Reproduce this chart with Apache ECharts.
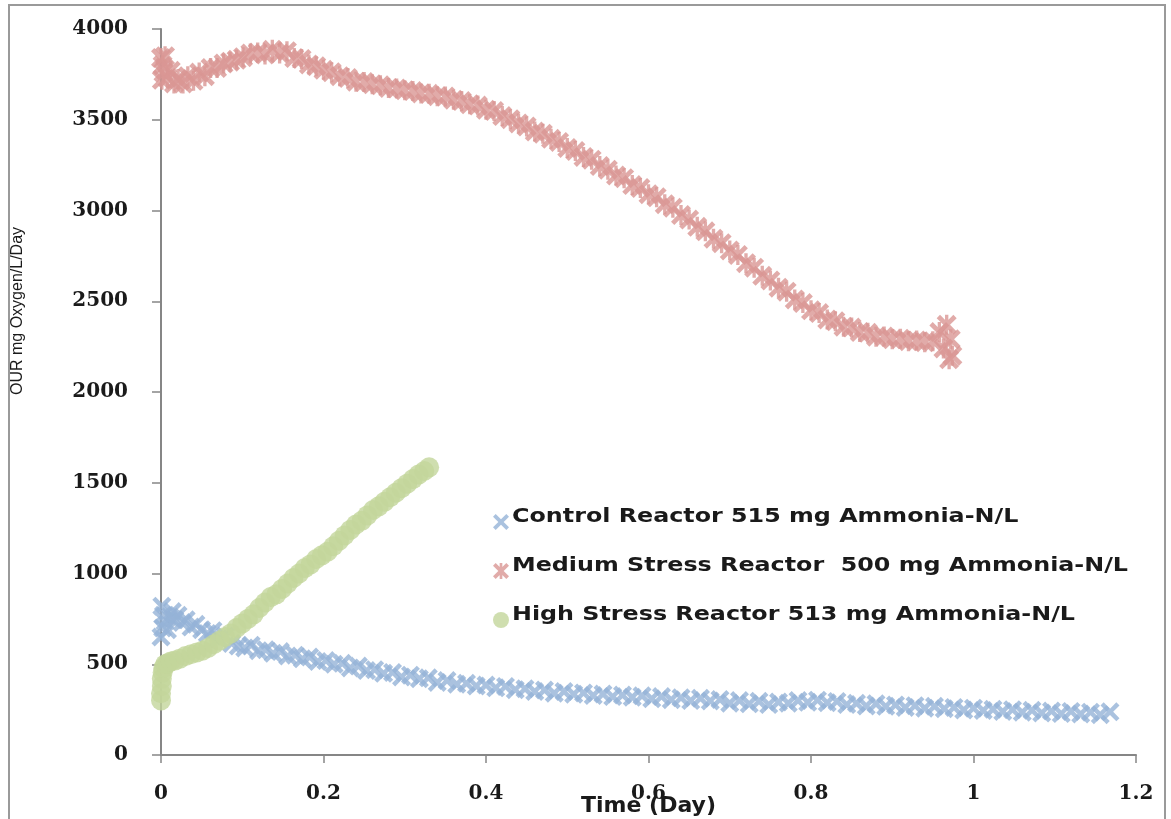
<!DOCTYPE html>
<html>
<head>
<meta charset="utf-8">
<title>OUR vs Time</title>
<script src="https://cdn.jsdelivr.net/npm/echarts@6/dist/echarts.min.js"></script>
<style>
  html, body { margin: 0; padding: 0; background: #ffffff; }
  #chart { width: 1171px; height: 819px; }
</style>
</head>
<body>
<div id="chart"></div>
<script>
// Oxygen uptake rate (mg O2/L/Day) against time (Day) for three reactors

const seriesNames = [
  'Control Reactor 515 mg Ammonia-N/L',
  'Medium Stress Reactor  500 mg Ammonia-N/L',
  'High Stress Reactor 513 mg Ammonia-N/L'
];

const xTicks = [0, 0.2, 0.4, 0.6, 0.8, 1, 1.2];
const yTicks = [0, 500, 1000, 1500, 2000, 2500, 3000, 3500, 4000];

// Control reactor
const ctrlTime = [0.000,0.001,0.002,0.003,0.005,0.008,0.011,0.014,0.017,0.021,0.026,0.031,0.037,0.043,0.050,0.057,0.064,0.071,0.079,0.087,
  0.095,0.103,0.111,0.120,0.129,0.138,0.147,0.156,0.165,0.174,0.183,0.193,0.203,0.213,0.223,0.233,0.243,0.253,0.263,0.274,
  0.285,0.296,0.307,0.318,0.329,0.340,0.352,0.364,0.376,0.388,0.400,0.412,0.424,0.436,0.448,0.460,0.472,0.484,0.496,0.508,
  0.520,0.532,0.544,0.556,0.568,0.580,0.592,0.604,0.616,0.628,0.640,0.652,0.664,0.676,0.688,0.700,0.712,0.724,0.736,0.748,
  0.760,0.772,0.784,0.796,0.808,0.820,0.832,0.844,0.856,0.868,0.880,0.892,0.904,0.916,0.928,0.940,0.952,0.964,0.976,0.988,
  1.000,1.012,1.024,1.036,1.048,1.060,1.072,1.084,1.096,1.108,1.120,1.132,1.144,1.156,1.168];
const ctrlOUR = [650,820,700,770,735,690,760,790,745,770,730,745,705,720,690,670,685,640,655,615,
  600,590,605,575,580,560,570,545,550,530,540,515,520,500,505,480,490,465,470,450,
  455,430,440,420,425,400,410,390,395,380,385,370,378,360,365,350,358,340,350,335,
  342,328,336,322,330,318,326,310,322,305,315,300,312,298,306,285,300,282,296,278,
  292,285,300,290,302,288,295,278,285,270,282,268,276,262,272,258,268,255,262,248,
  258,245,252,240,250,236,246,232,242,228,240,226,236,222,238];

// Medium stress reactor
const medTime = [0.000,0.001,0.002,0.003,0.005,0.008,0.012,0.016,0.021,0.027,0.033,0.040,0.047,0.054,0.061,0.069,0.077,0.085,0.093,0.101,
  0.110,0.119,0.128,0.137,0.146,0.155,0.164,0.173,0.182,0.191,0.200,0.210,0.220,0.230,0.240,0.250,0.260,0.270,0.280,0.290,
  0.300,0.310,0.320,0.330,0.340,0.350,0.360,0.370,0.380,0.390,0.400,0.410,0.420,0.430,0.440,0.450,0.460,0.470,0.480,0.490,
  0.500,0.510,0.520,0.530,0.540,0.550,0.560,0.570,0.580,0.590,0.600,0.610,0.620,0.630,0.640,0.650,0.660,0.670,0.680,0.690,
  0.700,0.710,0.720,0.730,0.740,0.750,0.760,0.770,0.780,0.790,0.800,0.810,0.820,0.830,0.840,0.850,0.860,0.870,0.880,0.890,
  0.900,0.910,0.920,0.930,0.940,0.950,0.958,0.963,0.967,0.970,0.972,0.974];
const medOUR = [3840,3720,3800,3760,3850,3730,3770,3700,3725,3700,3740,3715,3760,3740,3785,3785,3810,3820,3830,3845,
  3865,3870,3860,3885,3865,3878,3840,3835,3805,3795,3775,3762,3740,3730,3710,3708,3695,3690,3675,3672,
  3662,3658,3645,3643,3630,3628,3610,3603,3585,3578,3555,3548,3520,3503,3480,3463,3435,3423,3395,3378,
  3345,3328,3295,3280,3245,3225,3193,3178,3140,3124,3090,3073,3035,3015,2975,2950,2910,2885,2845,2820,
  2780,2755,2710,2685,2640,2615,2575,2553,2510,2490,2450,2435,2400,2390,2360,2355,2330,2326,2305,2306,
  2290,2294,2280,2284,2274,2280,2330,2240,2370,2180,2290,2200];

// High stress reactor
const highTime = [0.000,0.000,0.001,0.001,0.002,0.003,0.005,0.008,0.012,0.017,0.023,0.030,0.037,0.044,0.051,0.058,0.065,0.072,0.079,0.086,
  0.093,0.100,0.107,0.114,0.121,0.128,0.135,0.142,0.149,0.156,0.163,0.170,0.177,0.184,0.191,0.198,0.205,0.212,0.219,0.226,
  0.233,0.240,0.247,0.254,0.261,0.268,0.275,0.282,0.289,0.296,0.303,0.310,0.317,0.324,0.330];
const highOUR = [300,340,380,420,455,480,500,505,515,520,530,545,555,565,575,590,610,630,650,670,
  700,725,750,775,810,840,870,885,915,945,975,1000,1030,1050,1080,1100,1120,1150,1180,1210,
  1240,1270,1290,1320,1350,1370,1395,1420,1445,1470,1495,1520,1545,1565,1585];

const colors = ['#95B3D7', '#D99694', '#C3D69B'];

// Marker shapes: a thick cross and an asterisk (cross plus vertical bar)
const crossShape = 'M0,2L2,0L6,4L10,0L12,2L8,6L12,10L10,12L6,8L2,12L0,10L4,6Z';
const crossPath = 'path://' + crossShape;
const starPath = 'path://' + crossShape + 'M5,0L7,0L7,12L5,12Z';

function pairs(xs, ys) { return xs.map((x, i) => [x, ys[i]]); }

const chart = echarts.init(document.getElementById('chart'));

const tickFont = { fontFamily: 'DejaVu Serif', fontWeight: 'bold', fontSize: 20, color: '#1a1a1a' };

// Legend rows: icons come from the legend component, labels are drawn as wide text
const legendLeft = 488, legendTop = 509, legendRow = 49, legendTextX = 512;
const legendLabels = seriesNames.map((name, i) => ({
  type: 'text', silent: true,
  x: legendTextX, y: legendTop + 8 + i * legendRow,
  scaleX: 1.19,
  style: {
    text: name,
    font: 'bold 20px "DejaVu Sans"', fill: '#1a1a1a',
    align: 'left', verticalAlign: 'middle'
  }
}));

chart.setOption({
  animation: false,
  backgroundColor: '#ffffff',
  grid: { left: 161, right: 35, top: 29, bottom: 64, containLabel: false, outerBoundsMode: 'none' },
  xAxis: {
    type: 'value',
    min: xTicks[0], max: xTicks[xTicks.length - 1], interval: 0.2,
    name: 'Time (Day)', nameLocation: 'middle', nameGap: 40, nameMoveOverlap: false,
    nameTextStyle: { fontFamily: 'DejaVu Sans', fontWeight: 'bold', fontSize: 22, color: '#1a1a1a' },
    axisLine: { lineStyle: { color: '#868686', width: 2 } },
    axisTick: { show: true, inside: false, length: 8, lineStyle: { color: '#868686', width: 1.5 } },
    axisLabel: Object.assign({ margin: 29, formatter: v => String(v) }, tickFont),
    splitLine: { show: false }
  },
  yAxis: {
    type: 'value',
    min: yTicks[0], max: yTicks[yTicks.length - 1], interval: 500,
    axisLine: { show: true, lineStyle: { color: '#868686', width: 2 } },
    axisTick: { show: true, inside: false, length: 9, lineStyle: { color: '#868686', width: 1.5 } },
    axisLabel: Object.assign({ margin: 33, formatter: v => String(v) }, tickFont),
    splitLine: { show: false }
  },
  legend: {
    orient: 'vertical',
    left: legendLeft, top: legendTop,
    itemWidth: 16, itemHeight: 16, itemGap: legendRow - 16,
    formatter: () => '',
    data: seriesNames
  },
  graphic: [
    {
      type: 'rect', silent: true, z: -1,
      shape: { x: 9, y: 5, width: 1156, height: 820 },
      style: { fill: 'none', stroke: '#9a9a9a', lineWidth: 2 }
    },
    {
      type: 'text', silent: true,
      x: 18, y: 311, rotation: Math.PI / 2,
      style: {
        text: 'OUR mg Oxygen/L/Day',
        font: '16px "Liberation Sans"', fill: '#1a1a1a',
        align: 'center', verticalAlign: 'middle'
      }
    }
  ].concat(legendLabels),
  series: [
    {
      name: seriesNames[0], type: 'scatter', symbol: crossPath, symbolSize: 19,
      itemStyle: { color: colors[0] }, data: pairs(ctrlTime, ctrlOUR), z: 2
    },
    {
      name: seriesNames[1], type: 'scatter', symbol: starPath, symbolSize: 20,
      itemStyle: { color: colors[1] }, data: pairs(medTime, medOUR), z: 3
    },
    {
      name: seriesNames[2], type: 'scatter', symbol: 'circle', symbolSize: 20,
      itemStyle: { color: colors[2] }, data: pairs(highTime, highOUR), z: 4
    }
  ]
});
</script>
</body>
</html>
